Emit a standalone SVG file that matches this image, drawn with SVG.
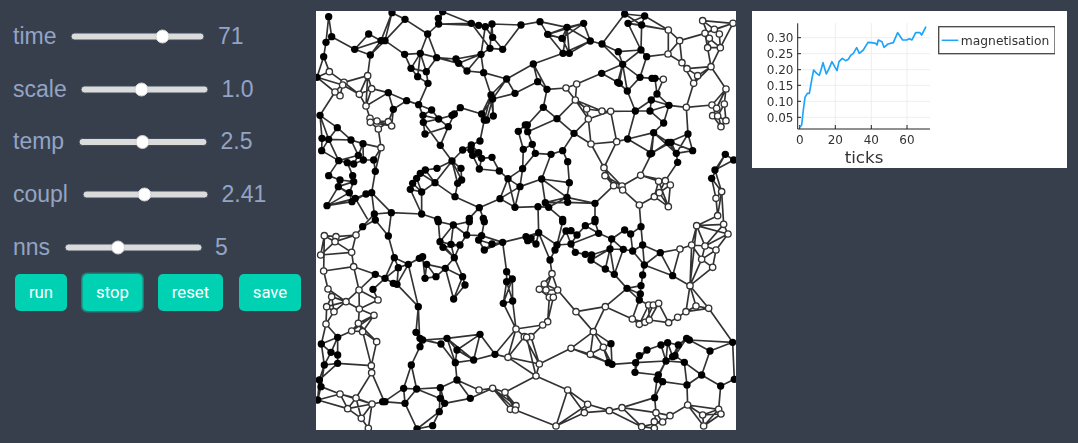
<svg xmlns="http://www.w3.org/2000/svg" width="1078" height="443" viewBox="0 0 1078 443">
<style>
.l{font:23px "Liberation Sans",Arial,sans-serif;fill:#93a4c5}
.tr{fill:#dbdbdb;stroke:#3f4a5c;stroke-width:1}
.th{fill:#fff;stroke:#cfcfcf;stroke-width:1}
.bt{fill:#00d1b2}
.bl{font:16.7px Roboto,"Liberation Sans",sans-serif;fill:#fff;text-anchor:middle}
.e{fill:none;stroke:#333;stroke-width:5;stroke-linejoin:round}
.b{r:11px;fill:#000}
.w{r:9.5px;fill:#fff;stroke:#333;stroke-width:4}
.t{font:12px "DejaVu Sans",sans-serif;fill:#333}
.g{stroke:#eee;stroke-width:1;fill:none}
.s{stroke:#222;stroke-width:1;fill:none}
</style>
<defs>
<filter id="soft" x="0" y="0" width="1" height="1"><feGaussianBlur stdDeviation="0.45"/></filter>
<clipPath id="netclip"><rect x="316" y="11" width="420" height="419"/></clipPath>
</defs>
<rect width="1078" height="443" fill="#383f4c"/>
<g id="slider-time"><text class="l" x="13" y="44">time</text><rect class="tr" x="71" y="33" width="133" height="7" rx="3.5"/><circle class="th" cx="162.5" cy="36.5" r="6.5"/><text class="l" x="218" y="44">71</text></g>
<g id="slider-scale"><text class="l" x="13" y="97">scale</text><rect class="tr" x="81" y="86" width="127" height="7" rx="3.5"/><circle class="th" cx="141.5" cy="89.5" r="6.5"/><text class="l" x="221.5" y="97">1.0</text></g>
<g id="slider-temp"><text class="l" x="13" y="149">temp</text><rect class="tr" x="79" y="138.500" width="128" height="7" rx="3.500"/><circle class="th" cx="142.500" cy="142" r="6.500"/><text class="l" x="220.500" y="149">2.5</text></g>
<g id="slider-coupl"><text class="l" x="13" y="202">coupl</text><rect class="tr" x="83" y="191" width="125" height="7" rx="3.500"/><circle class="th" cx="144.500" cy="194.500" r="6.500"/><text class="l" x="221.500" y="202">2.41</text></g>
<g id="slider-nns"><text class="l" x="13" y="255">nns</text><rect class="tr" x="65" y="244" width="137" height="7" rx="3.500"/><circle class="th" cx="118" cy="247.500" r="6.500"/><text class="l" x="215" y="255">5</text></g>
<g id="btn-run"><rect class="bt" x="15" y="274" width="52" height="37" rx="5"/><text class="bl" x="41" y="298">run</text></g>
<g id="btn-stop"><rect x="81" y="272.500" width="63" height="40" rx="6" fill="#1f7f78"/><rect class="bt" x="82.500" y="274" width="60" height="37" rx="5"/><text class="bl" x="112.500" y="298">stop</text></g>
<g id="btn-reset"><rect class="bt" x="158" y="274" width="65" height="37" rx="5"/><text class="bl" x="190.500" y="298">reset</text></g>
<g id="btn-save"><rect class="bt" x="239" y="274" width="62" height="37" rx="5"/><text class="bl" x="270" y="298">save</text></g>
<rect x="316" y="11" width="420" height="419" fill="#fff"/>
<g clip-path="url(#netclip)"><g filter="url(#soft)">
<g id="connectors">
<path class="e" transform="translate(316 10) scale(.3333)" d="M38 20L30 97L23 140L3 202L40 185L23 140M38 20L47 80L30 97M47 80L116 118L195 92L158 72L116 118L163 135L195 92M228 8L207 92L195 92M228 8L195 92M207 92L267 28L228 8M207 92L163 135L155 197M207 92L266 133L313 130L335 72L368 42L380 5M335 72L362 143L313 130M267 28L335 72M380 5L466 40L368 42L488 46M380 5L367 25L368 42M466 40L488 46L508 50L528 42L615 45L560 118L530 82L528 42M466 40L522 115L560 118M508 50L530 82M528 42L522 115L495 133L508 50M362 143L420 147L495 133L428 160L362 143M420 147L453 183L495 133L503 188L453 183M428 160L453 183M503 188L525 255L572 207L597 250L530 267L572 207M503 188L572 207L652 162M266 133L285 175L313 130L331 185L362 143M285 175L331 185L336 220L305 200L285 175M313 130L305 200M336 220L308 284L272 272L217 248M217 248L232 298L272 272M232 298L227 348M308 284L347 300L368 327L321 316L308 284M347 300L321 316L322 337L368 327L408 316L433 293L497 312M368 327L397 350L327 372L322 337L373 406M397 350L373 406L408 453M397 350L415 312M497 312L505 330L492 393L466 405M497 312L525 255L505 330M497 312L530 267L512 330M532 318L525 255M532 318L530 267M3 202L57 246L84 217L40 185M3 202L80 225L72 257L57 246M84 217L155 197L130 253L84 217M57 246L12 316M80 225L130 253L150 288L167 236L155 197L150 288M130 253L167 236L217 248L150 288M150 288L162 325L183 333L217 335L232 298M163 337L187 357L217 335M163 337L227 348L183 333M187 357L195 413L141 401M195 413L178 484M195 413L173 450M12 316L64 353L38 388L12 316L18 385L38 388L105 390L141 401L127 436L142 450L173 450L178 484M64 353L105 390L127 436L68 452L38 388M18 385L17 422L38 388M17 422L68 452L38 497M68 452L94 458L113 462L127 436M94 458L110 497L113 515L100 548M141 401L142 450M113 462L142 450M38 497L72 510L67 530L33 587L100 548L67 530L113 515L72 510M33 587L118 565L167 548L178 484M67 530L118 565L150 552L167 548L226 608L175 612L167 548M108 575L33 587M108 575L150 552M100 548L108 575M118 565L155 628M175 612L140 650M226 608L317 612L317 546L283 538L290 520L302 505L313 490L328 480L363 475L408 453L357 518L328 480M226 608L217 678M317 612L365 628M313 490L357 518M302 505L317 546L357 518M283 538L317 612M290 520L317 546M357 518L417 560L490 593L552 566L576 506L612 530L597 592L552 566M490 593L460 625M490 593L502 625M417 560L425 520L437 510L435 475L408 453L425 520M408 453L437 510M408 453L440 420L466 405L470 436L490 477L497 445L528 442L550 483M440 420L465 420M466 405L488 428L465 420M488 428L497 445L470 436M490 477L550 483L576 506L620 476L622 418M576 506L597 592M612 530L620 476M612 530L552 566M607 364L628 345M607 364L622 418M597 592L666 590"/>
<path class="e" transform="translate(526 10) scale(.3333)" d="M-15 45L42 35L123 52L65 73L42 35M65 73L108 85L123 52L173 40L193 93L228 102L296 12L356 18L427 60L461 92L426 132L362 140L345 120M65 73L111 130L130 130L108 85M123 52L130 130M123 52L111 130M173 40L65 73M173 40L108 85M193 93L123 52M130 130L193 93L111 130M111 130L22 162M22 162L35 215L63 238L120 234L152 222L148 270L120 234M22 162L63 238L52 292L93 326L148 270M35 215L-33 250M52 292L4 345M93 326L144 370L187 327L148 270L182 297L228 303L254 304L187 327M148 270L228 303M182 297L187 327M93 326L5 365M144 370L110 422L125 455L130 518L123 562L47 507L75 433L28 430L19 403L5 365L4 345M75 433L110 422M47 507L58 578L125 577L207 580M47 507L130 518M47 507L-18 530M75 433L47 507M123 562L58 578M123 562L68 592M36 590L68 592M36 590L38 668M207 580L207 628M68 592L110 628M207 580L123 562M144 370L195 402L272 395L254 304M187 327L195 402L234 473L272 395M234 473L263 527L237 497L288 528L234 473M263 527L207 580M263 527L290 540L288 528L344 496L377 430L305 387L272 395M290 540L340 585L385 560L400 548L418 512L398 514L344 496M344 496L418 512L455 457L451 430L427 397L383 368L305 387M398 514L427 590L433 525L418 512M340 585L345 650M400 548L427 590L385 560M398 514L385 560M433 525L400 548M305 387L328 303L254 304M328 303L372 303L413 339L383 368L377 430L427 397L435 397L500 422L486 372L427 397M383 368L451 430L486 372M372 432L435 397M372 432L383 368M435 397L451 430L500 422M486 372L481 292L429 286L376 270L328 303L304 243L290 163L228 102M290 163L277 125L345 120L290 163M277 125L228 102M345 120L347 45L296 12M306 40L345 120M306 40L356 18L347 45L306 40L427 60L427 132M347 45L427 60M290 163L227 190L152 222M227 190L275 217L304 243L280 220L290 163L275 217M290 163L342 202L304 243M342 202L362 140M342 202L378 205L387 205L393 252L376 270L372 303L429 286L413 339M387 205L412 208L393 252L429 286M481 292L503 220L515 197L483 176L468 158L426 132M468 158L503 220M483 176L555 170L503 220M515 197L555 170M555 170L583 113L545 113L537 70L461 92L468 158M537 70L565 58L580 72L583 113L550 85L530 32L565 58L621 40L583 113M530 32L621 40L537 70M550 85L545 113M537 70L555 170M555 170L600 237L558 285L481 292M600 237L572 295L585 350L600 332L595 282L600 237L560 317L575 318L600 332M558 285L572 295L560 317L585 350M595 282L575 318M598 433L567 480L623 450L598 433M598 433L557 505L570 565L587 545L567 480M557 505L587 545L575 617L570 565M-8 418L19 403M-10 476L28 430"/>
<path class="e" transform="translate(316 220) scale(.3333)" d="M25 47L60 50L120 45L107 97L57 65L14 105L25 47L57 65L120 45M60 50L57 65M25 47L23 153M14 105L107 97L113 140L23 153M120 45L140 20L178 0M113 140L129 210L178 163L113 140M23 153L36 207L47 230L90 245L129 210L186 240L130 267L90 245L36 207M129 210L130 267L174 286L127 310L130 267M186 240L171 208L207 175L178 163M207 175L232 190M47 230L32 260L54 275L90 245L32 260L30 312L65 352L107 333L127 310L140 335L182 365L166 437L167 458L120 534L168 552L205 545M54 275L47 230M30 312L54 275M174 286L140 335L107 333L174 286M127 310L182 365M140 335L166 437M65 352L16 372L45 397L65 405L65 430L25 435L45 397L65 352L65 405M16 372L25 435M30 312L16 372M65 430L166 437M25 435L10 480L15 500L5 540L10 480M25 435L15 500M65 430L10 480M15 500L72 522L120 534L95 566L72 522L168 552M5 540L95 566L136 595L157 625L168 552L136 595M5 540L72 522M120 534L136 595M95 566L168 552M167 458L205 545L263 505L302 507L267 550L200 545M263 505L267 550M263 505L286 435L302 507L373 503L423 480L418 428L473 420L537 403L576 412L660 468M217 48L178 0M217 48L235 113L277 133L247 143L235 113L207 175L247 143L243 193L232 190L207 175M277 133L310 115L332 133L327 175L320 110L277 133L307 260L243 193L277 133M327 175L360 170L388 145L415 113L440 170L447 195L413 237L388 145L332 133L360 170M388 145L440 170L413 237M415 113L372 65M415 113L405 73M307 260L300 337L312 355L320 360L393 355L492 343M307 260L312 380M300 337L320 360L375 372L418 428L393 355L423 390L418 428L375 372M312 380L286 435M312 380L320 360M312 355L375 372M423 390L473 420L492 343L537 403L600 327M492 343L423 390M393 355L473 420M423 480L489 510L530 505L567 517L600 557L583 568M530 505L600 557M567 517L598 570L583 568L530 505L598 570M567 517L660 468M423 480L463 535L530 505M418 428L423 480M373 503L386 550L463 535M373 503L373 535L386 550L370 575L350 617L303 627L267 550M302 507L370 535M373 503L370 575M370 575L303 627M600 327L680 315M600 327L625 350L576 412L600 327M367 5L372 65L412 15L367 5M412 15L460 5M412 15L452 45L497 47L505 5M452 45L460 5M452 45L432 75L381 82L372 65L405 73L432 75L415 113L381 82M405 73L412 15M497 47L488 60L528 72L560 67L497 47M505 90L528 72M488 60L505 90L560 67L572 155L572 185L562 250L590 243L589 177L572 155M572 185L590 243M589 177L562 250M590 243L600 327M562 250L600 327M432 75L415 113M560 67L630 50"/>
<path class="e" transform="translate(526 220) scale(.3333)" d="M0 50L38 38L72 120L78 161L55 192L40 208L70 232L60 210L95 210L78 161L40 208M55 192L95 210M82 232L95 210L150 275L238 260L202 335L150 275M78 161L60 210M70 232L65 305L50 315M82 232L65 305M70 232L82 232M202 335L135 385L193 403L232 382L202 335L255 371L232 382L258 433L255 371M135 385L40 432L30 468M135 385L247 428M193 403L202 335M232 382L247 428L193 403M247 428L258 433L329 428L340 407L363 390L405 375L425 368L457 375L482 355L490 360L620 367L552 393L527 465L475 427L420 423L329 428L327 457L397 465L420 423L393 478L410 485L483 495L527 465L584 498L625 478L620 367M405 375L420 423L425 368L440 410L457 375L447 407L475 427M440 410L420 423M482 355L447 407M340 407L327 457M363 390L329 428M483 495L475 427M552 393L490 360M397 465L410 485L386 533L393 478M386 533L288 563L250 572L185 553L125 510L90 618L175 578L185 553L250 572L175 578M125 510L175 578M90 618L185 553M30 468L125 510M-32 570L90 618M40 432L-54 412M30 468L40 432M2 352L15 350L50 315M15 350L40 432M2 352L30 468M40 432L-5 350M250 572L347 620L288 563L390 578L386 533M390 578L385 605L410 606L432 587L485 555L530 585L533 618L578 568L585 582L533 618L485 555M390 578L410 606L347 620M390 578L432 587M483 495L485 555L578 568L584 498M585 582L530 585L578 568M347 620L385 625L385 605M38 38L93 75L110 5M0 60L30 72L15 55L38 38L30 72M135 72L93 75L87 90L72 120L38 38M87 90L120 33L135 32L153 45L178 17L207 5M120 33L135 72L148 97L178 103L197 105L252 87L292 88L320 93L350 75L345 20L314 42L296 30L257 57L218 40L207 5M153 45L135 72M178 17L218 40L135 72M257 57L252 87L265 163L238 147L252 87M257 57L292 88L265 163M195 120L197 105M195 120L252 87M195 120L238 147L265 163L303 205L238 260M303 205L345 197L343 222L340 240L350 165L355 135L403 98L462 87L440 167L355 135M303 205L340 240M303 205L343 222M350 75L355 135L320 93L314 42M345 20L350 75L403 98L440 167L492 197L497 75L462 87M345 197L350 165M238 260L319 297L332 260L340 240M340 240L368 255L398 250L382 255L357 307L340 313L368 255L370 300L398 250L428 308L370 300L357 307L319 297L340 313M428 308L455 292L480 275L510 258L548 265L492 197L480 275M492 197L510 258M548 265L620 367M480 275L548 265M492 197L512 17M512 17L497 75L537 78L512 17L593 13L606 42L570 90L527 118L492 197L560 142L570 90L537 78L527 118L497 75M593 13L537 78M606 42L537 78M512 17L606 42M527 118L560 142M593 13L587 -85M512 17L575 -13"/>
</g>
<g id="nodes-tl" transform="translate(316 10) scale(.3333)">
<g id="a1"><circle class="b" cx="38" cy="20"/></g><g id="a2"><circle class="b" cx="47" cy="80"/></g><g id="a3"><circle class="b" cx="30" cy="97"/></g><g id="a4"><circle class="b" cx="23" cy="140"/></g><g id="a5"><circle class="b" cx="3" cy="202"/></g><g id="a6"><circle class="b" cx="228" cy="8"/></g><g id="a7"><circle class="b" cx="267" cy="28"/></g><g id="a8"><circle class="b" cx="380" cy="5"/></g><g id="a9"><circle class="b" cx="367" cy="25"/></g><g id="a10"><circle class="b" cx="368" cy="42"/></g><g id="a11"><circle class="b" cx="335" cy="72"/></g><g id="a12"><circle class="b" cx="158" cy="72"/></g><g id="a13"><circle class="b" cx="116" cy="118"/></g><g id="a14"><circle class="b" cx="195" cy="92"/></g><g id="a15"><circle class="b" cx="207" cy="92"/></g><g id="a16"><circle class="b" cx="163" cy="135"/></g><g id="a17"><circle class="b" cx="266" cy="133"/></g><g id="a18"><circle class="b" cx="313" cy="130"/></g><g id="a19"><circle class="b" cx="362" cy="143"/></g><g id="a20"><circle class="b" cx="285" cy="175"/></g><g id="a21"><circle class="b" cx="331" cy="185"/></g><g id="a22"><circle class="b" cx="305" cy="200"/></g><g id="a23"><circle class="b" cx="336" cy="220"/></g><g id="a24"><circle class="b" cx="466" cy="40"/></g><g id="a25"><circle class="b" cx="488" cy="46"/></g><g id="a26"><circle class="b" cx="508" cy="50"/></g><g id="a27"><circle class="b" cx="528" cy="42"/></g><g id="a28"><circle class="b" cx="615" cy="45"/></g><g id="a29"><circle class="b" cx="530" cy="82"/></g><g id="a30"><circle class="b" cx="522" cy="115"/></g><g id="a31"><circle class="b" cx="560" cy="118"/></g><g id="a32"><circle class="b" cx="495" cy="133"/></g><g id="a33"><circle class="b" cx="420" cy="147"/></g><g id="a34"><circle class="b" cx="428" cy="160"/></g><g id="a35"><circle class="b" cx="453" cy="183"/></g><g id="a36"><circle class="b" cx="503" cy="188"/></g><g id="a37"><circle class="b" cx="572" cy="207"/></g><g id="a38"><circle class="b" cx="525" cy="255"/></g><g id="a39"><circle class="b" cx="530" cy="267"/></g><g id="a40"><circle class="b" cx="597" cy="250"/></g><g id="a41"><circle class="b" cx="272" cy="272"/></g><g id="a42"><circle class="b" cx="217" cy="248"/></g><g id="a43"><circle class="b" cx="232" cy="298"/></g><g id="a44"><circle class="b" cx="308" cy="284"/></g><g id="a45"><circle class="b" cx="347" cy="300"/></g><g id="a46"><circle class="b" cx="321" cy="316"/></g><g id="a47"><circle class="b" cx="322" cy="337"/></g><g id="a48"><circle class="b" cx="368" cy="327"/></g><g id="a49"><circle class="b" cx="408" cy="316"/></g><g id="a50"><circle class="b" cx="415" cy="312"/></g><g id="a51"><circle class="b" cx="433" cy="293"/></g><g id="a52"><circle class="b" cx="397" cy="350"/></g><g id="a53"><circle class="b" cx="327" cy="372"/></g><g id="a54"><circle class="b" cx="373" cy="406"/></g><g id="a55"><circle class="b" cx="497" cy="312"/></g><g id="a56"><circle class="b" cx="505" cy="330"/></g><g id="a57"><circle class="b" cx="512" cy="330"/></g><g id="a58"><circle class="b" cx="532" cy="318"/></g><g id="a59"><circle class="b" cx="492" cy="393"/></g><g id="a60"><circle class="b" cx="12" cy="316"/></g><g id="a61"><circle class="b" cx="64" cy="353"/></g><g id="a62"><circle class="b" cx="18" cy="385"/></g><g id="a63"><circle class="b" cx="38" cy="388"/></g><g id="a64"><circle class="b" cx="105" cy="390"/></g><g id="a65"><circle class="b" cx="141" cy="401"/></g><g id="a66"><circle class="b" cx="17" cy="422"/></g><g id="a67"><circle class="b" cx="127" cy="436"/></g><g id="a68"><circle class="b" cx="142" cy="450"/></g><g id="a69"><circle class="b" cx="173" cy="450"/></g><g id="a70"><circle class="b" cx="68" cy="452"/></g><g id="a71"><circle class="b" cx="94" cy="458"/></g><g id="a72"><circle class="b" cx="113" cy="462"/></g><g id="a73"><circle class="b" cx="178" cy="484"/></g><g id="a74"><circle class="b" cx="38" cy="497"/></g><g id="a75"><circle class="b" cx="110" cy="497"/></g><g id="a76"><circle class="b" cx="113" cy="515"/></g><g id="a77"><circle class="b" cx="72" cy="510"/></g><g id="a78"><circle class="b" cx="67" cy="530"/></g><g id="a79"><circle class="b" cx="100" cy="548"/></g><g id="a80"><circle class="b" cx="118" cy="565"/></g><g id="a81"><circle class="b" cx="108" cy="575"/></g><g id="a82"><circle class="b" cx="150" cy="552"/></g><g id="a83"><circle class="b" cx="167" cy="548"/></g><g id="a84"><circle class="b" cx="33" cy="587"/></g><g id="a85"><circle class="b" cx="175" cy="612"/></g><g id="a86"><circle class="b" cx="226" cy="608"/></g><g id="a87"><circle class="b" cx="408" cy="453"/></g><g id="a88"><circle class="b" cx="363" cy="475"/></g><g id="a89"><circle class="b" cx="328" cy="480"/></g><g id="a90"><circle class="b" cx="313" cy="490"/></g><g id="a91"><circle class="b" cx="302" cy="505"/></g><g id="a92"><circle class="b" cx="290" cy="520"/></g><g id="a93"><circle class="b" cx="283" cy="538"/></g><g id="a94"><circle class="b" cx="317" cy="546"/></g><g id="a95"><circle class="b" cx="357" cy="518"/></g><g id="a96"><circle class="b" cx="435" cy="475"/></g><g id="a97"><circle class="b" cx="437" cy="510"/></g><g id="a98"><circle class="b" cx="425" cy="520"/></g><g id="a99"><circle class="b" cx="417" cy="560"/></g><g id="a100"><circle class="b" cx="317" cy="612"/></g><g id="a101"><circle class="b" cx="440" cy="420"/></g><g id="a102"><circle class="b" cx="466" cy="405"/></g><g id="a103"><circle class="b" cx="465" cy="420"/></g><g id="a104"><circle class="b" cx="470" cy="436"/></g><g id="a105"><circle class="b" cx="488" cy="428"/></g><g id="a106"><circle class="b" cx="497" cy="445"/></g><g id="a107"><circle class="b" cx="490" cy="477"/></g><g id="a108"><circle class="b" cx="528" cy="442"/></g><g id="a109"><circle class="b" cx="550" cy="483"/></g><g id="a110"><circle class="b" cx="576" cy="506"/></g><g id="a111"><circle class="b" cx="620" cy="476"/></g><g id="a112"><circle class="b" cx="622" cy="418"/></g><g id="a113"><circle class="b" cx="607" cy="364"/></g><g id="a114"><circle class="b" cx="628" cy="345"/></g><g id="a115"><circle class="b" cx="612" cy="530"/></g><g id="a116"><circle class="b" cx="552" cy="566"/></g><g id="a117"><circle class="b" cx="597" cy="592"/></g><g id="a118"><circle class="b" cx="490" cy="593"/></g><g id="a119"><circle class="b" cx="460" cy="625"/></g><g id="a120"><circle class="b" cx="502" cy="625"/></g><g id="a121"><circle class="b" cx="365" cy="628"/></g>
<g id="a122"><circle class="w" cx="40" cy="185"/></g><g id="a123"><circle class="w" cx="84" cy="217"/></g><g id="a124"><circle class="w" cx="80" cy="225"/></g><g id="a125"><circle class="w" cx="72" cy="257"/></g><g id="a126"><circle class="w" cx="57" cy="246"/></g><g id="a127"><circle class="w" cx="130" cy="253"/></g><g id="a128"><circle class="w" cx="155" cy="197"/></g><g id="a129"><circle class="w" cx="167" cy="236"/></g><g id="a130"><circle class="w" cx="150" cy="288"/></g><g id="a131"><circle class="w" cx="162" cy="325"/></g><g id="a132"><circle class="w" cx="163" cy="337"/></g><g id="a133"><circle class="w" cx="183" cy="333"/></g><g id="a134"><circle class="w" cx="187" cy="357"/></g><g id="a135"><circle class="w" cx="217" cy="335"/></g><g id="a136"><circle class="w" cx="227" cy="348"/></g><g id="a137"><circle class="w" cx="195" cy="413"/></g>
</g>
<g id="nodes-tr" transform="translate(526 10) scale(.3333)">
<g id="c1"><circle class="b" cx="42" cy="35"/></g><g id="c2"><circle class="b" cx="65" cy="73"/></g><g id="c3"><circle class="b" cx="123" cy="52"/></g><g id="c4"><circle class="b" cx="108" cy="85"/></g><g id="c5"><circle class="b" cx="173" cy="40"/></g><g id="c6"><circle class="b" cx="193" cy="93"/></g><g id="c7"><circle class="b" cx="111" cy="130"/></g><g id="c8"><circle class="b" cx="130" cy="130"/></g><g id="c9"><circle class="b" cx="22" cy="162"/></g><g id="c10"><circle class="b" cx="35" cy="215"/></g><g id="c11"><circle class="b" cx="63" cy="238"/></g><g id="c12"><circle class="b" cx="52" cy="292"/></g><g id="c13"><circle class="b" cx="93" cy="326"/></g><g id="c14"><circle class="b" cx="144" cy="370"/></g><g id="c15"><circle class="b" cx="4" cy="345"/></g><g id="c16"><circle class="b" cx="5" cy="365"/></g><g id="c17"><circle class="b" cx="19" cy="403"/></g><g id="c18"><circle class="b" cx="28" cy="430"/></g><g id="c19"><circle class="b" cx="75" cy="433"/></g><g id="c20"><circle class="b" cx="110" cy="422"/></g><g id="c21"><circle class="b" cx="125" cy="455"/></g><g id="c22"><circle class="b" cx="47" cy="507"/></g><g id="c23"><circle class="b" cx="130" cy="518"/></g><g id="c24"><circle class="b" cx="123" cy="562"/></g><g id="c25"><circle class="b" cx="125" cy="577"/></g><g id="c26"><circle class="b" cx="58" cy="578"/></g><g id="c27"><circle class="b" cx="68" cy="592"/></g><g id="c28"><circle class="b" cx="36" cy="590"/></g><g id="c29"><circle class="b" cx="207" cy="580"/></g><g id="c30"><circle class="b" cx="110" cy="628"/></g><g id="c31"><circle class="b" cx="207" cy="628"/></g><g id="c32"><circle class="b" cx="296" cy="12"/></g><g id="c33"><circle class="b" cx="356" cy="18"/></g><g id="c34"><circle class="b" cx="306" cy="40"/></g><g id="c35"><circle class="b" cx="347" cy="45"/></g><g id="c36"><circle class="b" cx="228" cy="102"/></g><g id="c37"><circle class="b" cx="277" cy="125"/></g><g id="c38"><circle class="b" cx="345" cy="120"/></g><g id="c39"><circle class="b" cx="362" cy="140"/></g><g id="c40"><circle class="b" cx="290" cy="163"/></g><g id="c41"><circle class="b" cx="227" cy="190"/></g><g id="c42"><circle class="b" cx="275" cy="217"/></g><g id="c43"><circle class="b" cx="280" cy="220"/></g><g id="c44"><circle class="b" cx="342" cy="202"/></g><g id="c45"><circle class="b" cx="378" cy="205"/></g><g id="c46"><circle class="b" cx="387" cy="205"/></g><g id="c47"><circle class="b" cx="304" cy="243"/></g><g id="c48"><circle class="b" cx="393" cy="252"/></g><g id="c49"><circle class="b" cx="376" cy="270"/></g><g id="c50"><circle class="b" cx="328" cy="303"/></g><g id="c51"><circle class="b" cx="372" cy="303"/></g><g id="c52"><circle class="b" cx="429" cy="286"/></g><g id="c53"><circle class="b" cx="413" cy="339"/></g><g id="c54"><circle class="b" cx="305" cy="387"/></g><g id="c55"><circle class="b" cx="383" cy="368"/></g><g id="c56"><circle class="b" cx="486" cy="372"/></g><g id="c57"><circle class="b" cx="427" cy="397"/></g><g id="c58"><circle class="b" cx="435" cy="397"/></g><g id="c59"><circle class="b" cx="377" cy="430"/></g><g id="c60"><circle class="b" cx="372" cy="432"/></g><g id="c61"><circle class="b" cx="451" cy="430"/></g><g id="c62"><circle class="b" cx="500" cy="422"/></g><g id="c63"><circle class="b" cx="455" cy="457"/></g><g id="c64"><circle class="b" cx="598" cy="433"/></g><g id="c65"><circle class="b" cx="623" cy="450"/></g><g id="c66"><circle class="b" cx="567" cy="480"/></g><g id="c67"><circle class="b" cx="557" cy="505"/></g>
<g id="c68"><circle class="w" cx="120" cy="234"/></g><g id="c69"><circle class="w" cx="152" cy="222"/></g><g id="c70"><circle class="w" cx="148" cy="270"/></g><g id="c71"><circle class="w" cx="182" cy="297"/></g><g id="c72"><circle class="w" cx="187" cy="327"/></g><g id="c73"><circle class="w" cx="228" cy="303"/></g><g id="c74"><circle class="w" cx="254" cy="304"/></g><g id="c75"><circle class="w" cx="412" cy="208"/></g><g id="c76"><circle class="w" cx="195" cy="402"/></g><g id="c77"><circle class="w" cx="272" cy="395"/></g><g id="c78"><circle class="w" cx="234" cy="473"/></g><g id="c79"><circle class="w" cx="237" cy="497"/></g><g id="c80"><circle class="w" cx="263" cy="527"/></g><g id="c81"><circle class="w" cx="288" cy="528"/></g><g id="c82"><circle class="w" cx="290" cy="540"/></g><g id="c83"><circle class="w" cx="344" cy="496"/></g><g id="c84"><circle class="w" cx="340" cy="585"/></g><g id="c85"><circle class="w" cx="398" cy="514"/></g><g id="c86"><circle class="w" cx="418" cy="512"/></g><g id="c87"><circle class="w" cx="433" cy="525"/></g><g id="c88"><circle class="w" cx="385" cy="560"/></g><g id="c89"><circle class="w" cx="400" cy="548"/></g><g id="c90"><circle class="w" cx="427" cy="590"/></g><g id="c91"><circle class="w" cx="427" cy="60"/></g><g id="c92"><circle class="w" cx="461" cy="92"/></g><g id="c93"><circle class="w" cx="426" cy="132"/></g><g id="c94"><circle class="w" cx="468" cy="158"/></g><g id="c95"><circle class="w" cx="483" cy="176"/></g><g id="c96"><circle class="w" cx="515" cy="197"/></g><g id="c97"><circle class="w" cx="503" cy="220"/></g><g id="c98"><circle class="w" cx="555" cy="170"/></g><g id="c99"><circle class="w" cx="583" cy="113"/></g><g id="c100"><circle class="w" cx="545" cy="113"/></g><g id="c101"><circle class="w" cx="537" cy="70"/></g><g id="c102"><circle class="w" cx="550" cy="85"/></g><g id="c103"><circle class="w" cx="565" cy="58"/></g><g id="c104"><circle class="w" cx="580" cy="72"/></g><g id="c105"><circle class="w" cx="530" cy="32"/></g><g id="c106"><circle class="w" cx="621" cy="40"/></g><g id="c107"><circle class="w" cx="481" cy="292"/></g><g id="c108"><circle class="w" cx="600" cy="237"/></g><g id="c109"><circle class="w" cx="558" cy="285"/></g><g id="c110"><circle class="w" cx="595" cy="282"/></g><g id="c111"><circle class="w" cx="572" cy="295"/></g><g id="c112"><circle class="w" cx="560" cy="317"/></g><g id="c113"><circle class="w" cx="575" cy="318"/></g><g id="c114"><circle class="w" cx="600" cy="332"/></g><g id="c115"><circle class="w" cx="585" cy="350"/></g><g id="c116"><circle class="w" cx="570" cy="565"/></g><g id="c117"><circle class="w" cx="587" cy="545"/></g><g id="c118"><circle class="w" cx="575" cy="617"/></g>
</g>
<g id="nodes-bl" transform="translate(316 220) scale(.3333)">
<g id="d1"><circle class="w" cx="25" cy="47"/></g><g id="d2"><circle class="w" cx="60" cy="50"/></g><g id="d3"><circle class="w" cx="120" cy="45"/></g><g id="d4"><circle class="w" cx="57" cy="65"/></g><g id="d5"><circle class="w" cx="14" cy="105"/></g><g id="d6"><circle class="w" cx="107" cy="97"/></g><g id="d7"><circle class="w" cx="113" cy="140"/></g><g id="d8"><circle class="w" cx="23" cy="153"/></g><g id="d9"><circle class="w" cx="36" cy="207"/></g><g id="d10"><circle class="w" cx="129" cy="210"/></g><g id="d11"><circle class="w" cx="47" cy="230"/></g><g id="d12"><circle class="w" cx="90" cy="245"/></g><g id="d13"><circle class="w" cx="32" cy="260"/></g><g id="d14"><circle class="w" cx="54" cy="275"/></g><g id="d15"><circle class="w" cx="130" cy="267"/></g><g id="d16"><circle class="w" cx="186" cy="240"/></g><g id="d17"><circle class="w" cx="174" cy="286"/></g><g id="d18"><circle class="w" cx="30" cy="312"/></g><g id="d19"><circle class="w" cx="127" cy="310"/></g><g id="d20"><circle class="w" cx="107" cy="333"/></g><g id="d21"><circle class="w" cx="140" cy="335"/></g><g id="d22"><circle class="w" cx="182" cy="365"/></g><g id="d23"><circle class="w" cx="166" cy="437"/></g><g id="d24"><circle class="w" cx="167" cy="458"/></g><g id="d25"><circle class="w" cx="72" cy="522"/></g><g id="d26"><circle class="w" cx="120" cy="534"/></g><g id="d27"><circle class="w" cx="168" cy="552"/></g><g id="d28"><circle class="w" cx="95" cy="566"/></g><g id="d29"><circle class="w" cx="136" cy="595"/></g><g id="d30"><circle class="w" cx="157" cy="625"/></g><g id="d31"><circle class="w" cx="600" cy="327"/></g><g id="d32"><circle class="w" cx="625" cy="350"/></g><g id="d33"><circle class="w" cx="576" cy="412"/></g><g id="d34"><circle class="w" cx="489" cy="510"/></g><g id="d35"><circle class="w" cx="530" cy="505"/></g><g id="d36"><circle class="w" cx="567" cy="517"/></g><g id="d37"><circle class="w" cx="600" cy="557"/></g><g id="d38"><circle class="w" cx="583" cy="568"/></g><g id="d39"><circle class="w" cx="598" cy="570"/></g>
<g id="d40"><circle class="b" cx="140" cy="20"/></g><g id="d41"><circle class="b" cx="178" cy="0"/></g><g id="d42"><circle class="b" cx="217" cy="48"/></g><g id="d43"><circle class="b" cx="235" cy="113"/></g><g id="d44"><circle class="b" cx="277" cy="133"/></g><g id="d45"><circle class="b" cx="310" cy="115"/></g><g id="d46"><circle class="b" cx="320" cy="110"/></g><g id="d47"><circle class="b" cx="247" cy="143"/></g><g id="d48"><circle class="b" cx="332" cy="133"/></g><g id="d49"><circle class="b" cx="388" cy="145"/></g><g id="d50"><circle class="b" cx="415" cy="113"/></g><g id="d51"><circle class="b" cx="327" cy="175"/></g><g id="d52"><circle class="b" cx="360" cy="170"/></g><g id="d53"><circle class="b" cx="440" cy="170"/></g><g id="d54"><circle class="b" cx="447" cy="195"/></g><g id="d55"><circle class="b" cx="413" cy="237"/></g><g id="d56"><circle class="b" cx="178" cy="163"/></g><g id="d57"><circle class="b" cx="207" cy="175"/></g><g id="d58"><circle class="b" cx="232" cy="190"/></g><g id="d59"><circle class="b" cx="243" cy="193"/></g><g id="d60"><circle class="b" cx="171" cy="208"/></g><g id="d61"><circle class="b" cx="307" cy="260"/></g><g id="d62"><circle class="b" cx="300" cy="337"/></g><g id="d63"><circle class="b" cx="312" cy="355"/></g><g id="d64"><circle class="b" cx="320" cy="360"/></g><g id="d65"><circle class="b" cx="312" cy="380"/></g><g id="d66"><circle class="b" cx="393" cy="355"/></g><g id="d67"><circle class="b" cx="375" cy="372"/></g><g id="d68"><circle class="b" cx="492" cy="343"/></g><g id="d69"><circle class="b" cx="423" cy="390"/></g><g id="d70"><circle class="b" cx="473" cy="420"/></g><g id="d71"><circle class="b" cx="418" cy="428"/></g><g id="d72"><circle class="b" cx="537" cy="403"/></g><g id="d73"><circle class="b" cx="286" cy="435"/></g><g id="d74"><circle class="b" cx="423" cy="480"/></g><g id="d75"><circle class="b" cx="373" cy="503"/></g><g id="d76"><circle class="b" cx="463" cy="535"/></g><g id="d77"><circle class="b" cx="386" cy="550"/></g><g id="d78"><circle class="b" cx="373" cy="535"/></g><g id="d79"><circle class="b" cx="370" cy="575"/></g><g id="d80"><circle class="b" cx="350" cy="617"/></g><g id="d81"><circle class="b" cx="303" cy="627"/></g><g id="d82"><circle class="b" cx="263" cy="505"/></g><g id="d83"><circle class="b" cx="302" cy="507"/></g><g id="d84"><circle class="b" cx="267" cy="550"/></g><g id="d85"><circle class="b" cx="207" cy="545"/></g><g id="d86"><circle class="b" cx="200" cy="545"/></g><g id="d87"><circle class="b" cx="65" cy="352"/></g><g id="d88"><circle class="b" cx="16" cy="372"/></g><g id="d89"><circle class="b" cx="45" cy="397"/></g><g id="d90"><circle class="b" cx="65" cy="405"/></g><g id="d91"><circle class="b" cx="65" cy="430"/></g><g id="d92"><circle class="b" cx="25" cy="435"/></g><g id="d93"><circle class="b" cx="10" cy="480"/></g><g id="d94"><circle class="b" cx="15" cy="500"/></g><g id="d95"><circle class="b" cx="5" cy="540"/></g><g id="d96"><circle class="b" cx="367" cy="5"/></g><g id="d97"><circle class="b" cx="412" cy="15"/></g><g id="d98"><circle class="b" cx="460" cy="5"/></g><g id="d99"><circle class="b" cx="505" cy="5"/></g><g id="d100"><circle class="b" cx="452" cy="45"/></g><g id="d101"><circle class="b" cx="497" cy="47"/></g><g id="d102"><circle class="b" cx="488" cy="60"/></g><g id="d103"><circle class="b" cx="372" cy="65"/></g><g id="d104"><circle class="b" cx="381" cy="82"/></g><g id="d105"><circle class="b" cx="405" cy="73"/></g><g id="d106"><circle class="b" cx="432" cy="75"/></g><g id="d107"><circle class="b" cx="528" cy="72"/></g><g id="d108"><circle class="b" cx="560" cy="67"/></g><g id="d109"><circle class="b" cx="505" cy="90"/></g><g id="d110"><circle class="b" cx="572" cy="155"/></g><g id="d111"><circle class="b" cx="572" cy="185"/></g><g id="d112"><circle class="b" cx="589" cy="177"/></g><g id="d113"><circle class="b" cx="562" cy="250"/></g><g id="d114"><circle class="b" cx="590" cy="243"/></g>
</g>
<g id="nodes-br" transform="translate(526 220) scale(.3333)">
<g id="f1"><circle class="b" cx="38" cy="38"/></g><g id="f2"><circle class="b" cx="110" cy="5"/></g><g id="f3"><circle class="b" cx="120" cy="33"/></g><g id="f4"><circle class="b" cx="135" cy="32"/></g><g id="f5"><circle class="b" cx="153" cy="45"/></g><g id="f6"><circle class="b" cx="178" cy="17"/></g><g id="f7"><circle class="b" cx="207" cy="5"/></g><g id="f8"><circle class="b" cx="218" cy="40"/></g><g id="f9"><circle class="b" cx="257" cy="57"/></g><g id="f10"><circle class="b" cx="296" cy="30"/></g><g id="f11"><circle class="b" cx="314" cy="42"/></g><g id="f12"><circle class="b" cx="345" cy="20"/></g><g id="f13"><circle class="b" cx="350" cy="75"/></g><g id="f14"><circle class="b" cx="403" cy="98"/></g><g id="f15"><circle class="b" cx="355" cy="135"/></g><g id="f16"><circle class="b" cx="350" cy="165"/></g><g id="f17"><circle class="b" cx="440" cy="167"/></g><g id="f18"><circle class="b" cx="345" cy="197"/></g><g id="f19"><circle class="b" cx="343" cy="222"/></g><g id="f20"><circle class="b" cx="340" cy="240"/></g><g id="f21"><circle class="b" cx="303" cy="205"/></g><g id="f22"><circle class="b" cx="265" cy="163"/></g><g id="f23"><circle class="b" cx="238" cy="147"/></g><g id="f24"><circle class="b" cx="178" cy="103"/></g><g id="f25"><circle class="b" cx="197" cy="105"/></g><g id="f26"><circle class="b" cx="195" cy="120"/></g><g id="f27"><circle class="b" cx="148" cy="97"/></g><g id="f28"><circle class="b" cx="252" cy="87"/></g><g id="f29"><circle class="b" cx="292" cy="88"/></g><g id="f30"><circle class="b" cx="320" cy="93"/></g><g id="f31"><circle class="b" cx="135" cy="72"/></g><g id="f32"><circle class="b" cx="93" cy="75"/></g><g id="f33"><circle class="b" cx="87" cy="90"/></g><g id="f34"><circle class="b" cx="72" cy="120"/></g><g id="f35"><circle class="b" cx="0" cy="50"/></g><g id="f36"><circle class="b" cx="5" cy="62"/></g><g id="f37"><circle class="b" cx="15" cy="55"/></g><g id="f38"><circle class="b" cx="30" cy="72"/></g><g id="f39"><circle class="b" cx="255" cy="371"/></g><g id="f40"><circle class="b" cx="247" cy="428"/></g><g id="f41"><circle class="b" cx="258" cy="433"/></g><g id="f42"><circle class="b" cx="329" cy="428"/></g><g id="f43"><circle class="b" cx="327" cy="457"/></g><g id="f44"><circle class="b" cx="340" cy="407"/></g><g id="f45"><circle class="b" cx="363" cy="390"/></g><g id="f46"><circle class="b" cx="405" cy="375"/></g><g id="f47"><circle class="b" cx="425" cy="368"/></g><g id="f48"><circle class="b" cx="457" cy="375"/></g><g id="f49"><circle class="b" cx="482" cy="355"/></g><g id="f50"><circle class="b" cx="490" cy="360"/></g><g id="f51"><circle class="b" cx="620" cy="367"/></g><g id="f52"><circle class="b" cx="552" cy="393"/></g><g id="f53"><circle class="b" cx="420" cy="423"/></g><g id="f54"><circle class="b" cx="440" cy="410"/></g><g id="f55"><circle class="b" cx="447" cy="407"/></g><g id="f56"><circle class="b" cx="475" cy="427"/></g><g id="f57"><circle class="b" cx="527" cy="465"/></g><g id="f58"><circle class="b" cx="625" cy="478"/></g><g id="f59"><circle class="b" cx="397" cy="465"/></g><g id="f60"><circle class="b" cx="393" cy="478"/></g><g id="f61"><circle class="b" cx="410" cy="485"/></g><g id="f62"><circle class="b" cx="483" cy="495"/></g><g id="f63"><circle class="b" cx="584" cy="498"/></g><g id="f64"><circle class="b" cx="386" cy="533"/></g>
<g id="f65"><circle class="w" cx="78" cy="161"/></g><g id="f66"><circle class="w" cx="55" cy="192"/></g><g id="f67"><circle class="w" cx="40" cy="208"/></g><g id="f68"><circle class="w" cx="60" cy="210"/></g><g id="f69"><circle class="w" cx="95" cy="210"/></g><g id="f70"><circle class="w" cx="70" cy="232"/></g><g id="f71"><circle class="w" cx="82" cy="232"/></g><g id="f72"><circle class="w" cx="150" cy="275"/></g><g id="f73"><circle class="w" cx="238" cy="260"/></g><g id="f74"><circle class="w" cx="65" cy="305"/></g><g id="f75"><circle class="w" cx="50" cy="315"/></g><g id="f76"><circle class="w" cx="15" cy="350"/></g><g id="f77"><circle class="w" cx="2" cy="352"/></g><g id="f78"><circle class="w" cx="40" cy="432"/></g><g id="f79"><circle class="w" cx="30" cy="468"/></g><g id="f80"><circle class="w" cx="135" cy="385"/></g><g id="f81"><circle class="w" cx="202" cy="335"/></g><g id="f82"><circle class="w" cx="193" cy="403"/></g><g id="f83"><circle class="w" cx="232" cy="382"/></g><g id="f84"><circle class="w" cx="125" cy="510"/></g><g id="f85"><circle class="w" cx="185" cy="553"/></g><g id="f86"><circle class="w" cx="175" cy="578"/></g><g id="f87"><circle class="w" cx="250" cy="572"/></g><g id="f88"><circle class="w" cx="288" cy="563"/></g><g id="f89"><circle class="w" cx="90" cy="618"/></g><g id="f90"><circle class="w" cx="390" cy="578"/></g><g id="f91"><circle class="w" cx="432" cy="587"/></g><g id="f92"><circle class="w" cx="410" cy="606"/></g><g id="f93"><circle class="w" cx="385" cy="605"/></g><g id="f94"><circle class="w" cx="347" cy="620"/></g><g id="f95"><circle class="w" cx="485" cy="555"/></g><g id="f96"><circle class="w" cx="530" cy="585"/></g><g id="f97"><circle class="w" cx="578" cy="568"/></g><g id="f98"><circle class="w" cx="585" cy="582"/></g><g id="f99"><circle class="w" cx="533" cy="618"/></g><g id="f100"><circle class="w" cx="319" cy="297"/></g><g id="f101"><circle class="w" cx="340" cy="313"/></g><g id="f102"><circle class="w" cx="357" cy="307"/></g><g id="f103"><circle class="w" cx="370" cy="300"/></g><g id="f104"><circle class="w" cx="368" cy="255"/></g><g id="f105"><circle class="w" cx="382" cy="255"/></g><g id="f106"><circle class="w" cx="398" cy="250"/></g><g id="f107"><circle class="w" cx="428" cy="308"/></g><g id="f108"><circle class="w" cx="455" cy="292"/></g><g id="f109"><circle class="w" cx="480" cy="275"/></g><g id="f110"><circle class="w" cx="510" cy="258"/></g><g id="f111"><circle class="w" cx="548" cy="265"/></g><g id="f112"><circle class="w" cx="492" cy="197"/></g><g id="f113"><circle class="w" cx="462" cy="87"/></g><g id="f114"><circle class="w" cx="497" cy="75"/></g><g id="f115"><circle class="w" cx="537" cy="78"/></g><g id="f116"><circle class="w" cx="570" cy="90"/></g><g id="f117"><circle class="w" cx="527" cy="118"/></g><g id="f118"><circle class="w" cx="560" cy="142"/></g><g id="f119"><circle class="w" cx="512" cy="17"/></g><g id="f120"><circle class="w" cx="593" cy="13"/></g><g id="f121"><circle class="w" cx="606" cy="42"/></g><g id="f122"><circle class="w" cx="385" cy="625"/></g>
</g>
</g></g>
<g id="chart">
<rect x="752" y="11" width="315" height="157" fill="#fff"/>
<g filter="url(#soft)">
<path class="g" d="M835.300 23V129M871.300 23V129M907 23V129M798 117.300H930M798 101.300H930M798 85.300H930M798 69.700H930M798 53.700H930M798 37.700H930"/>
<path class="s" d="M797.700 23.300V129H930M799.700 129V125M835.300 129V125M871.300 129V125M907 129V125M797.700 117.300H801M797.700 101.300H801M797.700 85.300H801M797.700 69.700H801M797.700 53.700H801M797.700 37.700H801"/>
<path transform="translate(750 10) scale(.3333)" fill="none" stroke="#1da4fb" stroke-width="5" stroke-linejoin="round" d="M150 352L155 345L160 300L165 262L172 250L178 250L186 205L191 180L200 190L208 196L213 180L219 158L229 192L236 178L246 155L254 170L261 182L267 155L277 145L287 152L295 148L302 136L310 130L320 113L328 130L340 120L354 97L365 98L377 100L381 105L385 90L396 95L402 112L414 102L430 98L443 68L458 90L470 90L478 86L486 90L497 68L510 68L515 75L528 50"/>
<g class="t" text-anchor="end"><text x="793.500" y="42">0.30</text><text x="793.500" y="58">0.25</text><text x="793.500" y="74">0.20</text><text x="793.500" y="90">0.15</text><text x="793.500" y="106">0.10</text><text x="793.500" y="122">0.05</text></g>
<g class="t" text-anchor="middle"><text x="799.700" y="144">0</text><text x="835.300" y="144">20</text><text x="871.300" y="144">40</text><text x="907" y="144">60</text></g>
<text x="864" y="162.500" text-anchor="middle" style="font:16.7px 'DejaVu Sans',sans-serif;fill:#333">ticks</text>
<g id="legend"><rect x="938.700" y="26.700" width="116.300" height="27" fill="#fff" stroke="#444" stroke-width="1.300"/><path d="M941.700 40.300H958.300" stroke="#1da4fb" stroke-width="1.500"/><text x="960.800" y="44.500" style="font:12.300px 'DejaVu Sans',sans-serif;fill:#333">magnetisation</text></g>
</g>
</g>
</svg>
